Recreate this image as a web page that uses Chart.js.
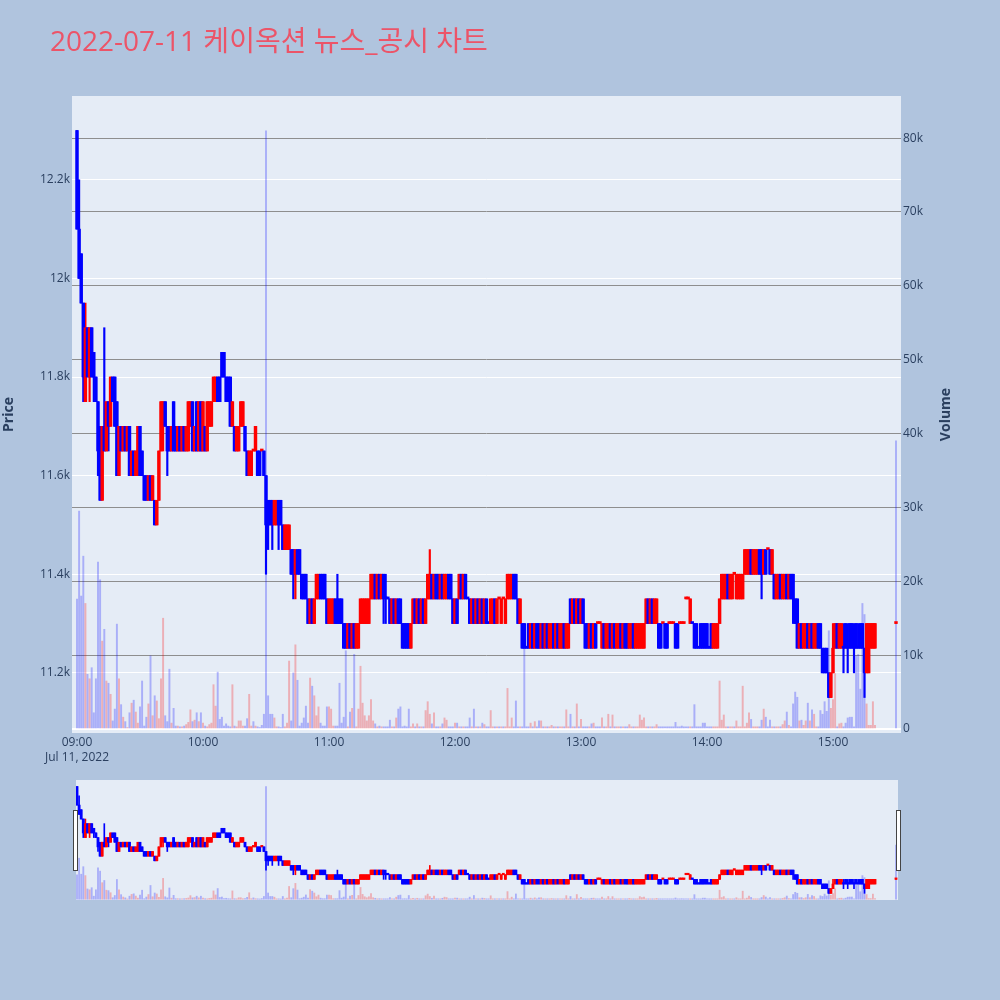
<!DOCTYPE html>
<html>
<head>
<meta charset="utf-8">
<script src="https://cdn.jsdelivr.net/npm/chart.js@4.4.1/dist/chart.umd.min.js"></script>
<style>
html,body{margin:0;padding:0;background:#b0c4de;width:1000px;height:1000px;overflow:hidden}
#main{position:absolute;left:0;top:0}
#slider{position:absolute;left:0;top:770px}
</style>
</head>
<body>
<canvas id="main" width="1000" height="775"></canvas>
<canvas id="slider" width="1000" height="140"></canvas>
<script>
const chartTitle = '2022-07-11 케이옥션 뉴스_공시 차트';
const dateLabel = 'Jul 11, 2022';
const priceTitle = 'Price';
const volumeTitle = 'Volume';
const xTickLabels = ['09:00','10:00','11:00','12:00','13:00','14:00','15:00'];
const priceTicks = [11200,11400,11600,11800,12000,12200];
const priceTickLabels = ['11.2k','11.4k','11.6k','11.8k','12k','12.2k'];
const volumeTicks = [0,10000,20000,30000,40000,50000,60000,70000,80000];
const volumeTickLabels = ['0','10k','20k','30k','40k','50k','60k','70k','80k'];

const times = [
'09:00','09:01','09:02','09:03','09:04','09:05','09:06','09:07','09:08','09:09',
'09:10','09:11','09:12','09:13','09:14','09:15','09:16','09:17','09:18','09:19',
'09:20','09:21','09:22','09:23','09:24','09:25','09:26','09:27','09:28','09:29',
'09:30','09:31','09:32','09:33','09:34','09:35','09:36','09:37','09:38','09:39',
'09:40','09:41','09:42','09:43','09:44','09:45','09:46','09:47','09:48','09:49',
'09:50','09:51','09:52','09:53','09:54','09:55','09:56','09:57','09:58','09:59',
'10:00','10:01','10:02','10:03','10:04','10:05','10:06','10:07','10:08','10:09',
'10:10','10:11','10:12','10:13','10:14','10:15','10:16','10:17','10:18','10:19',
'10:20','10:21','10:22','10:23','10:24','10:25','10:26','10:27','10:28','10:29',
'10:30','10:31','10:32','10:33','10:34','10:35','10:36','10:37','10:38','10:39',
'10:40','10:41','10:42','10:43','10:44','10:45','10:46','10:47','10:48','10:49',
'10:50','10:51','10:52','10:53','10:54','10:55','10:56','10:57','10:58','10:59',
'11:00','11:01','11:02','11:03','11:04','11:05','11:06','11:07','11:08','11:09',
'11:10','11:11','11:12','11:13','11:14','11:15','11:16','11:17','11:18','11:19',
'11:20','11:21','11:22','11:23','11:24','11:25','11:26','11:27','11:28','11:29',
'11:30','11:31','11:32','11:33','11:34','11:35','11:36','11:37','11:38','11:39',
'11:40','11:41','11:42','11:43','11:44','11:45','11:46','11:47','11:48','11:49',
'11:50','11:51','11:52','11:53','11:54','11:55','11:56','11:57','11:58','11:59',
'12:00','12:01','12:02','12:03','12:04','12:05','12:06','12:07','12:08','12:09',
'12:10','12:11','12:12','12:13','12:14','12:15','12:16','12:17','12:18','12:19',
'12:20','12:21','12:22','12:23','12:24','12:25','12:26','12:27','12:28','12:29',
'12:30','12:31','12:32','12:33','12:34','12:35','12:36','12:37','12:38','12:39',
'12:40','12:41','12:42','12:43','12:44','12:45','12:46','12:47','12:48','12:49',
'12:50','12:51','12:52','12:53','12:54','12:55','12:56','12:57','12:58','12:59',
'13:00','13:01','13:02','13:03','13:04','13:05','13:06','13:07','13:08','13:09',
'13:10','13:11','13:12','13:13','13:14','13:15','13:16','13:17','13:18','13:19',
'13:20','13:21','13:22','13:23','13:24','13:25','13:26','13:27','13:28','13:29',
'13:30','13:31','13:32','13:33','13:34','13:35','13:36','13:37','13:38','13:39',
'13:40','13:41','13:42','13:43','13:44','13:45','13:46','13:47','13:48','13:49',
'13:50','13:51','13:52','13:53','13:54','13:55','13:56','13:57','13:58','13:59',
'14:00','14:01','14:02','14:03','14:04','14:05','14:06','14:07','14:08','14:09',
'14:10','14:11','14:12','14:13','14:14','14:15','14:16','14:17','14:18','14:19',
'14:20','14:21','14:22','14:23','14:24','14:25','14:26','14:27','14:28','14:29',
'14:30','14:31','14:32','14:33','14:34','14:35','14:36','14:37','14:38','14:39',
'14:40','14:41','14:42','14:43','14:44','14:45','14:46','14:47','14:48','14:49',
'14:50','14:51','14:52','14:53','14:54','14:55','14:56','14:57','14:58','14:59',
'15:00','15:01','15:02','15:03','15:04','15:05','15:06','15:07','15:08','15:09',
'15:10','15:11','15:12','15:13','15:14','15:15','15:16','15:17','15:18','15:19',
'15:20','15:30'
];

const open = [
12300,12100,12050,11950,11750,11900,11800,11900,11850,11800,
11750,11700,11550,11700,11650,11750,11700,11800,11800,11750,
11600,11700,11650,11700,11650,11700,11600,11650,11600,11600,
11700,11650,11600,11600,11550,11600,11550,11550,11500,11550,
11650,11700,11750,11700,11700,11650,11750,11700,11650,11700,
11650,11700,11650,11650,11700,11750,11650,11750,11650,11750,
11650,11700,11650,11700,11700,11750,11750,11800,11800,11850,
11850,11800,11800,11800,11700,11700,11650,11650,11700,11700,
11700,11650,11600,11600,11650,11650,11650,11650,11650,11650,
11600,11550,11550,11550,11500,11500,11550,11550,11500,11450,
11450,11450,11450,11450,11400,11450,11450,11400,11400,11400,
11350,11300,11350,11300,11350,11350,11400,11400,11400,11350,
11300,11300,11300,11350,11350,11350,11350,11300,11300,11250,
11300,11250,11300,11250,11250,11300,11300,11300,11300,11300,
11350,11350,11400,11350,11400,11350,11400,11350,11350,11350,
11300,11350,11300,11350,11350,11300,11300,11300,11300,11250,
11300,11350,11300,11350,11300,11350,11300,11350,11350,11400,
11350,11400,11400,11350,11400,11350,11350,11400,11400,11350,
11300,11350,11350,11400,11350,11400,11350,11350,11300,11350,
11300,11350,11300,11350,11300,11350,11300,11300,11300,11350,
11300,11350,11300,11350,11300,11350,11350,11350,11400,11400,
11350,11300,11300,11300,11250,11300,11250,11300,11250,11300,
11300,11250,11300,11250,11300,11250,11250,11300,11250,11300,
11250,11250,11300,11250,11250,11350,11300,11350,11300,11350,
11300,11350,11300,11300,11250,11300,11250,11300,11300,11300,
11250,11300,11250,11250,11300,11250,11300,11250,11250,11300,
11250,11300,11300,11250,11250,11300,11250,11250,11250,11250,
11250,11300,11350,11300,11350,11300,11300,11300,11300,11300,
11300,11300,11300,11300,11300,11300,11300,11300,11300,11300,
11350,11350,11300,11300,11300,11300,11250,11300,11300,11300,
11300,11250,11300,11250,11250,11250,11300,11350,11350,11350,
11400,11350,11350,11400,11350,11350,11350,11350,11400,11400,
11400,11450,11400,11400,11400,11450,11450,11400,11450,11450,
11450,11400,11400,11350,11350,11400,11350,11350,11400,11350,
11400,11400,11350,11350,11250,11300,11250,11250,11300,11250,
11300,11250,11250,11300,11300,11250,11250,11250,11200,11150,
11200,11250,11300,11250,11250,11250,11300,11250,11300,11300,
11250,11300,11250,11300,11300,11250,11200,11200,11250,11250,11250,
11300
];

const high = [
12300,12200,12050,11950,11950,11900,11900,11900,11850,11800,
11750,11700,11700,11900,11750,11750,11800,11800,11800,11750,
11700,11700,11700,11700,11700,11700,11650,11650,11650,11700,
11700,11650,11600,11600,11600,11600,11600,11550,11550,11650,
11750,11750,11750,11700,11700,11700,11750,11700,11700,11700,
11700,11700,11700,11750,11750,11750,11700,11750,11750,11750,
11750,11700,11750,11750,11750,11800,11800,11800,11800,11850,
11850,11800,11800,11800,11750,11700,11700,11700,11750,11750,
11700,11650,11650,11650,11650,11700,11650,11650,11650,11650,
11600,11550,11550,11550,11550,11550,11550,11550,11500,11500,
11500,11500,11450,11450,11450,11450,11450,11400,11400,11400,
11350,11350,11350,11350,11400,11400,11400,11400,11400,11350,
11350,11350,11350,11350,11400,11350,11350,11300,11300,11300,
11300,11300,11300,11300,11300,11350,11350,11350,11350,11350,
11400,11400,11400,11400,11400,11400,11400,11400,11350,11350,
11350,11350,11350,11350,11350,11300,11300,11300,11300,11300,
11350,11350,11350,11350,11350,11350,11350,11400,11450,11400,
11400,11400,11400,11400,11400,11400,11400,11400,11400,11350,
11350,11350,11400,11400,11400,11400,11350,11350,11350,11350,
11350,11350,11350,11350,11350,11350,11300,11350,11350,11350,
11350,11350,11350,11350,11350,11400,11400,11400,11400,11400,
11350,11350,11300,11300,11250,11300,11300,11300,11300,11300,
11300,11300,11300,11300,11300,11300,11300,11300,11300,11300,
11300,11300,11300,11300,11300,11350,11350,11350,11350,11350,
11350,11350,11300,11300,11300,11300,11300,11300,11300,11300,
11300,11300,11300,11300,11300,11300,11300,11300,11300,11300,
11300,11300,11300,11300,11300,11300,11300,11300,11300,11300,
11300,11350,11350,11350,11350,11350,11350,11300,11300,11300,
11300,11300,11300,11300,11300,11300,11300,11300,11300,11300,
11350,11350,11350,11300,11300,11300,11250,11300,11300,11300,
11300,11250,11300,11300,11300,11300,11350,11400,11400,11400,
11400,11400,11400,11400,11400,11400,11400,11400,11450,11450,
11450,11450,11450,11450,11450,11450,11450,11450,11450,11450,
11450,11450,11400,11400,11400,11400,11400,11400,11400,11400,
11400,11400,11350,11350,11300,11300,11300,11300,11300,11300,
11300,11300,11300,11300,11300,11250,11250,11250,11200,11200,
11300,11300,11300,11300,11300,11300,11300,11300,11300,11300,
11300,11300,11300,11300,11300,11250,11300,11300,11300,11300,11300,
11300
];

const low = [
12100,12000,11950,11750,11750,11800,11750,11800,11750,11750,
11600,11550,11550,11650,11650,11650,11700,11750,11700,11600,
11600,11650,11650,11650,11650,11600,11600,11600,11600,11600,
11600,11600,11550,11550,11550,11550,11550,11500,11500,11550,
11650,11650,11700,11600,11650,11650,11650,11650,11650,11650,
11650,11650,11650,11650,11700,11650,11650,11650,11650,11650,
11650,11650,11650,11700,11700,11750,11750,11750,11750,11800,
11800,11750,11750,11700,11700,11650,11650,11650,11700,11700,
11650,11600,11600,11600,11650,11650,11600,11600,11650,11600,
11400,11450,11500,11450,11500,11500,11450,11500,11450,11450,
11450,11450,11400,11350,11350,11400,11400,11350,11350,11350,
11300,11300,11300,11300,11350,11350,11350,11350,11350,11300,
11300,11300,11300,11300,11300,11300,11300,11250,11250,11250,
11250,11250,11250,11250,11250,11300,11300,11300,11300,11300,
11350,11350,11350,11350,11350,11350,11300,11300,11350,11300,
11300,11300,11300,11300,11300,11250,11250,11250,11250,11250,
11300,11300,11300,11300,11300,11300,11300,11350,11350,11350,
11350,11350,11350,11350,11350,11350,11350,11350,11350,11300,
11300,11300,11350,11350,11350,11350,11350,11300,11300,11300,
11300,11300,11300,11300,11300,11300,11300,11300,11300,11300,
11300,11350,11300,11350,11300,11350,11350,11350,11350,11350,
11300,11300,11250,11250,11250,11250,11250,11250,11250,11250,
11250,11250,11250,11250,11250,11250,11250,11250,11250,11250,
11250,11250,11250,11250,11250,11300,11300,11300,11300,11300,
11300,11300,11250,11250,11250,11250,11250,11250,11300,11300,
11250,11250,11250,11250,11250,11250,11250,11250,11250,11250,
11250,11250,11250,11250,11250,11250,11250,11250,11250,11250,
11250,11300,11300,11300,11300,11300,11300,11250,11250,11300,
11250,11250,11300,11300,11300,11250,11250,11300,11300,11300,
11350,11350,11300,11300,11250,11250,11250,11250,11250,11250,
11250,11250,11250,11250,11250,11250,11300,11350,11350,11350,
11350,11350,11350,11400,11350,11350,11350,11350,11400,11400,
11400,11400,11400,11400,11400,11400,11350,11400,11400,11450,
11400,11400,11350,11350,11350,11350,11350,11350,11350,11350,
11350,11300,11300,11250,11250,11250,11250,11250,11250,11250,
11250,11250,11250,11250,11250,11200,11200,11200,11150,11150,
11200,11250,11250,11250,11250,11200,11250,11200,11250,11250,
11200,11250,11250,11250,11250,11150,11200,11200,11250,11250,11250,
11300
];

const close = [
12100,12000,11950,11800,11900,11800,11900,11800,11800,11750,
11650,11550,11700,11650,11750,11700,11800,11750,11700,11600,
11700,11650,11700,11650,11700,11600,11650,11600,11650,11700,
11600,11600,11550,11550,11600,11550,11600,11500,11550,11650,
11750,11750,11700,11650,11650,11700,11650,11650,11700,11650,
11700,11650,11700,11750,11750,11650,11700,11650,11750,11650,
11750,11650,11750,11750,11750,11800,11800,11750,11750,11800,
11800,11750,11750,11700,11750,11650,11700,11700,11750,11750,
11650,11600,11650,11650,11650,11700,11600,11600,11650,11600,
11500,11500,11500,11500,11550,11550,11500,11500,11450,11500,
11500,11500,11400,11400,11450,11400,11400,11350,11350,11350,
11300,11350,11300,11350,11400,11400,11350,11350,11350,11300,
11350,11350,11350,11300,11300,11300,11300,11250,11250,11300,
11250,11300,11250,11300,11300,11350,11350,11350,11350,11350,
11400,11400,11350,11400,11350,11400,11350,11350,11350,11300,
11350,11300,11350,11300,11300,11250,11250,11250,11250,11300,
11350,11300,11350,11300,11350,11300,11350,11400,11400,11350,
11400,11350,11350,11400,11350,11400,11400,11350,11350,11300,
11350,11300,11400,11350,11400,11350,11350,11300,11350,11300,
11350,11300,11350,11300,11350,11300,11300,11350,11350,11300,
11350,11350,11350,11350,11350,11400,11400,11400,11350,11350,
11300,11350,11250,11250,11250,11250,11300,11250,11300,11250,
11250,11300,11250,11300,11250,11300,11300,11250,11300,11250,
11300,11300,11250,11300,11300,11300,11350,11300,11350,11300,
11350,11300,11250,11250,11300,11250,11300,11250,11300,11300,
11300,11250,11300,11300,11250,11300,11250,11300,11300,11250,
11300,11250,11250,11300,11300,11250,11300,11300,11300,11300,
11300,11350,11300,11350,11300,11350,11350,11250,11250,11300,
11250,11250,11300,11300,11300,11250,11250,11300,11300,11300,
11350,11350,11350,11300,11250,11250,11250,11250,11250,11250,
11250,11250,11250,11300,11300,11300,11350,11400,11400,11400,
11350,11400,11400,11400,11400,11400,11400,11400,11450,11450,
11450,11400,11450,11450,11450,11400,11400,11450,11400,11450,
11400,11450,11350,11400,11400,11350,11400,11400,11350,11400,
11350,11350,11300,11250,11300,11250,11300,11300,11250,11300,
11250,11300,11300,11250,11250,11200,11200,11200,11150,11200,
11250,11300,11250,11300,11300,11250,11250,11250,11250,11250,
11250,11250,11250,11250,11250,11200,11300,11300,11300,11300,11300,
11300
];

const volume = [
17600,29500,18000,23400,17000,7400,6800,8300,2200,6800,
22600,20200,11900,13500,6500,6200,4700,1100,2700,14200,
6800,3300,1600,1000,200,2200,3500,3900,2300,800,
3000,6500,400,1600,3400,9900,1800,4500,3800,1400,
6800,15000,1800,1000,8100,800,2800,400,400,300,
300,400,600,900,2600,1000,1200,2200,1000,2200,
800,400,300,600,800,6000,3100,7700,1300,1600,
400,700,400,300,6000,400,300,1100,1100,400,
400,1400,4700,400,1000,400,300,200,500,2000,
81000,4500,2000,2000,1500,300,300,200,2000,300,
800,9200,1100,7600,11400,6600,400,800,1500,3100,
800,6900,5800,4500,1800,3000,800,400,400,3000,
3000,2700,400,400,400,6200,800,1600,10600,300,
2300,2800,10100,300,2700,8500,3500,1800,1100,1800,
4000,1100,700,300,400,300,300,300,300,1200,
300,300,1500,2700,3000,300,400,300,2700,300,
700,300,700,300,300,300,2500,3700,2000,700,
2200,300,300,300,700,1500,1200,300,300,300,
800,800,300,300,300,300,300,1500,300,2700,
300,300,300,800,600,300,300,2500,300,300,
300,300,300,300,300,5500,300,1500,300,3800,
300,300,300,12600,300,300,800,300,1000,300,
1100,1100,300,300,300,300,500,300,300,300,
300,300,300,2600,300,2000,300,300,3400,300,
1300,300,300,300,300,700,800,300,300,300,
1500,300,300,2000,300,1900,300,300,300,300,
300,300,300,600,300,300,300,300,1900,1200,
1500,300,300,300,300,300,600,300,300,300,
300,300,300,300,300,900,300,300,400,300,
300,300,300,300,3300,300,300,300,800,800,
300,300,300,300,300,300,6500,1200,1900,300,
300,300,300,300,1100,300,300,5800,300,800,
2200,1300,300,300,300,300,1200,2700,1600,300,
1200,300,300,300,300,300,600,1100,2300,500,
300,3400,5000,4300,1100,1200,500,1100,3500,1100,
2600,2000,300,300,2500,2000,3700,2400,13300,2800,
4000,7500,300,700,800,300,800,1500,1600,1600,
300,9900,10100,5400,17000,15500,3400,500,500,3700,500,
39000
];

const FONT = '"Open Sans", "Noto Sans CJK KR", sans-serif';
const TICK_COLOR = '#2a3f5f';
const PLOT_BG = '#e5ecf6';

const toMinutes = t => { const p = t.split(':').map(Number); return (p[0] - 9) * 60 + p[1]; };
const xs = times.map(toMinutes);

// candle direction (plotly style): close vs open, ties resolved by previous close, then previous direction
const dirs = [];
for (let i = 0; i < close.length; i++) {
  let d;
  if (close[i] > open[i]) d = 1;
  else if (close[i] < open[i]) d = -1;
  else if (i > 0 && close[i] > close[i - 1]) d = 1;
  else if (i > 0 && close[i] < close[i - 1]) d = -1;
  else d = i > 0 ? dirs[i - 1] : -1;
  dirs.push(d);
}
const candleColors = dirs.map(d => d > 0 ? '#ff0000' : '#0000ff');
// volume bar colour: red only when close > open
const volumeColors = close.map((c, i) => c > open[i] ? 'rgba(255,0,0,0.26)' : 'rgba(0,0,255,0.26)');

function makeDatasets(bodyW, wickW, volW, minLen) {
  return [
    { label: 'Body', yAxisID: 'yp', data: xs.map((x, i) => ({ x: x, y: [open[i], close[i]] })),
      backgroundColor: candleColors, barThickness: bodyW, minBarLength: minLen, grouped: false, order: 1, borderWidth: 0 },
    { label: 'Wick', yAxisID: 'yp', data: xs.map((x, i) => ({ x: x, y: [low[i], high[i]] })),
      backgroundColor: candleColors, barThickness: wickW, grouped: false, order: 2, borderWidth: 0 },
    { label: 'Volume', yAxisID: 'yv', data: xs.map((x, i) => ({ x: x, y: volume[i] })),
      backgroundColor: volumeColors, barThickness: volW, grouped: false, order: 3, borderWidth: 0 }
  ];
}

const plotBg = {
  id: 'plotBg',
  beforeDraw(chart) {
    const { ctx, chartArea: a } = chart;
    ctx.save();
    ctx.fillStyle = PLOT_BG;
    ctx.fillRect(a.left, a.top, a.right - a.left, a.bottom - a.top);
    ctx.restore();
  }
};

const mainText = {
  id: 'mainText',
  afterDraw(chart) {
    const { ctx, chartArea: a } = chart;
    ctx.save();
    ctx.fillStyle = '#ec5468';
    ctx.font = '28px ' + FONT;
    ctx.textAlign = 'left';
    ctx.textBaseline = 'alphabetic';
    ctx.fillText(chartTitle, 50, 51);
    const cy = (a.top + a.bottom) / 2;
    ctx.fillStyle = TICK_COLOR;
    ctx.font = 'bold 14px ' + FONT;
    ctx.textAlign = 'center';
    ctx.textBaseline = 'middle';
    ctx.save(); ctx.translate(9, cy); ctx.rotate(-Math.PI / 2); ctx.fillText(priceTitle, 0, 0); ctx.restore();
    ctx.save(); ctx.translate(946, cy); ctx.rotate(-Math.PI / 2); ctx.fillText(volumeTitle, 0, 0); ctx.restore();
    ctx.restore();
  }
};

const tickFont = { family: FONT, size: 12, lineHeight: 1.25 };

new Chart(document.getElementById('main'), {
  type: 'bar',
  data: { datasets: makeDatasets(2.8, 1.5, 1.3, 2) },
  options: {
    responsive: false,
    animation: false,
    events: [],
    layout: { padding: { top: 96, left: 0, right: 0, bottom: 0 } },
    plugins: { legend: { display: false }, tooltip: { enabled: false }, title: { display: false } },
    scales: {
      x: {
        type: 'linear', position: 'bottom', min: -2.38, max: 392.38, offset: false,
        grid: { display: false, drawTicks: false }, border: { display: false },
        afterBuildTicks: s => { s.ticks = xTickLabels.map(t => ({ value: toMinutes(t) })); },
        ticks: {
          autoSkip: false, maxRotation: 0, minRotation: 0, padding: 2, color: TICK_COLOR, font: tickFont,
          callback: (v, i) => i === 0 ? [xTickLabels[i], dateLabel] : xTickLabels[i]
        },
        afterFit: s => { s.height = 42; }
      },
      yp: {
        type: 'linear', position: 'left', min: 11078, max: 12370, beginAtZero: false,
        grid: { color: '#ffffff', lineWidth: 1, drawTicks: false }, border: { display: false },
        afterBuildTicks: s => { s.ticks = priceTicks.map(v => ({ value: v })); },
        ticks: { padding: 2, color: TICK_COLOR, font: tickFont, callback: (v, i) => priceTickLabels[i] },
        afterFit: s => { s.width = 72; }
      },
      yv: {
        type: 'linear', position: 'right', min: -540, max: 85700, beginAtZero: false,
        grid: {
          color: c => (c.tick && c.tick.value === 0) ? '#ffffff' : '#8e8e8e',
          lineWidth: c => (c.tick && c.tick.value === 0) ? 2 : 1,
          drawTicks: false
        },
        border: { display: false },
        afterBuildTicks: s => { s.ticks = volumeTicks.map(v => ({ value: v })); },
        ticks: { padding: 2, color: TICK_COLOR, font: tickFont, callback: (v, i) => volumeTickLabels[i] },
        afterFit: s => { s.width = 99; }
      }
    }
  },
  plugins: [plotBg, mainText]
});

const sliderHandles = {
  id: 'sliderHandles',
  afterDraw(chart) {
    const ctx = chart.ctx;
    ctx.save();
    ctx.fillStyle = '#ffffff';
    ctx.strokeStyle = '#444444';
    ctx.lineWidth = 1;
    [73.5, 896.5].forEach(x => {
      ctx.fillRect(x, 40.5, 4, 60);
      ctx.strokeRect(x, 40.5, 4, 60);
    });
    ctx.restore();
  }
};

new Chart(document.getElementById('slider'), {
  type: 'bar',
  data: { datasets: makeDatasets(2.2, 1, 1.2, 1.5) },
  options: {
    responsive: false,
    animation: false,
    events: [],
    layout: { padding: { top: 10, left: 76, right: 102, bottom: 10 } },
    plugins: { legend: { display: false }, tooltip: { enabled: false } },
    scales: {
      x: { type: 'linear', display: false, min: -0.476, max: 390.95, offset: false },
      yp: { type: 'linear', position: 'left', display: false, min: 11078, max: 12370, beginAtZero: false },
      yv: { type: 'linear', position: 'right', display: false, min: -540, max: 85700, beginAtZero: false }
    }
  },
  plugins: [plotBg, sliderHandles]
});
</script>
</body>
</html>
